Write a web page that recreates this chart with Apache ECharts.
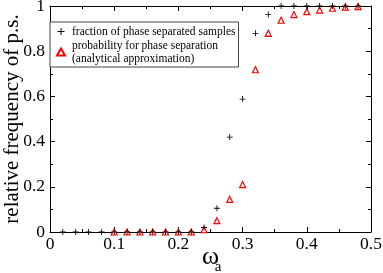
<!DOCTYPE html>
<html><head><meta charset="utf-8">
<script src="https://cdn.jsdelivr.net/npm/echarts@6/dist/echarts.min.js"></script>
<style>html,body{margin:0;padding:0;background:#fff}#c{width:383px;height:273px}</style>
</head><body><div id="c"></div>
<script>
var xFraction = [0.02,0.04,0.06,0.08,0.10,0.12,0.14,0.16,0.18,0.20,0.22,0.24,0.26,0.28,0.30,0.32,0.34,0.36,0.38,0.40,0.42,0.44,0.46,0.48];
var yFraction = [0,0,0,0,0,0,0,0,0,0,0,0.02,0.105,0.42,0.588,0.879,0.962,1,1,1,1,1,1,1];
var xProb = [0.10,0.12,0.14,0.16,0.18,0.20,0.22,0.24,0.26,0.28,0.30,0.32,0.34,0.36,0.38,0.40,0.42,0.44,0.46,0.48];
var yProb = [0,0,0,0,0,0,0,0.01,0.05,0.144,0.21,0.718,0.879,0.937,0.962,0.975,0.982,0.99,0.995,0.997];
var nameFraction = 'fraction of phase separated samples';
var nameProb = 'probability for phase separation\n(analytical approximation)';
var yTitle = 'relative frequency of p.s.';

var FONT = '"Liberation Serif", serif';
var plus = 'path://M0,4.3H10V5.7H0Z M4.3,0H5.7V10H4.3Z';
function pairs(xs, ys){ return xs.map(function(x,i){return [x, ys[i]];}); }
var axisCommon = {
  axisLine:{show:true, onZero:false, lineStyle:{color:'#000', width:1}},
  axisTick:{show:true, inside:true, length:5, lineStyle:{color:'#000'}},
  minorTick:{show:true, splitNumber:2, length:3, lineStyle:{color:'#000'}},
  splitLine:{show:false}
};
var chart = echarts.init(document.getElementById('c'));
chart.setOption({
  animation:false,
  grid:{left:50, right:12, top:6, bottom:41, containLabel:false, outerBoundsMode:'none'},
  legend:{
    orient:'vertical', left:50, top:22, padding:[3,3,2,6],
    borderColor:'#444', borderWidth:1, backgroundColor:'#fff',
    itemGap:1, itemWidth:8, itemHeight:7,
    textStyle:{fontFamily:FONT, fontSize:11.5, color:'#000', lineHeight:13, padding:[0,0,0,2]},
    data:[{name:nameFraction, icon:plus}, {name:nameProb, icon:'triangle'}]
  },
  xAxis:[
    Object.assign({type:'value', min:0, max:0.5, interval:0.1, position:'bottom',
      name:'{w|ω}\n{s|a}', nameLocation:'middle', nameGap:18, nameMoveOverlap:false,
      nameTextStyle:{rich:{
        w:{fontFamily:FONT, fontSize:26, color:'#000', lineHeight:14},
        s:{fontFamily:FONT, fontSize:15, color:'#000', lineHeight:6, padding:[0,0,0,15]}}},
      axisLabel:{fontFamily:FONT, fontSize:17.5, color:'#000', margin:3}}, axisCommon),
    Object.assign({type:'value', min:0, max:0.5, interval:0.1, position:'top', axisLabel:{show:false}}, axisCommon)
  ],
  yAxis:[
    Object.assign({type:'value', min:0, max:1, interval:0.2, position:'left',
      name:yTitle, nameLocation:'middle', nameGap:27, nameRotate:90, nameMoveOverlap:false,
      nameTextStyle:{fontFamily:FONT, fontSize:21, color:'#000'},
      axisLabel:{fontFamily:FONT, fontSize:17.5, color:'#000', margin:5}}, axisCommon),
    Object.assign({type:'value', min:0, max:1, interval:0.2, position:'right', axisLabel:{show:false}}, axisCommon)
  ],
  series:[
    {name:nameProb, type:'scatter', symbol:'triangle', symbolSize:6, z:2,
      itemStyle:{color:'#fff', borderColor:'#ff0000', borderWidth:1.2, opacity:1},
      data:pairs(xProb, yProb)},
    {name:nameFraction, type:'scatter', symbol:plus, symbolSize:6, z:3,
      itemStyle:{color:'#000', opacity:1},
      data:pairs(xFraction, yFraction)}
  ]
});
</script></body></html>
